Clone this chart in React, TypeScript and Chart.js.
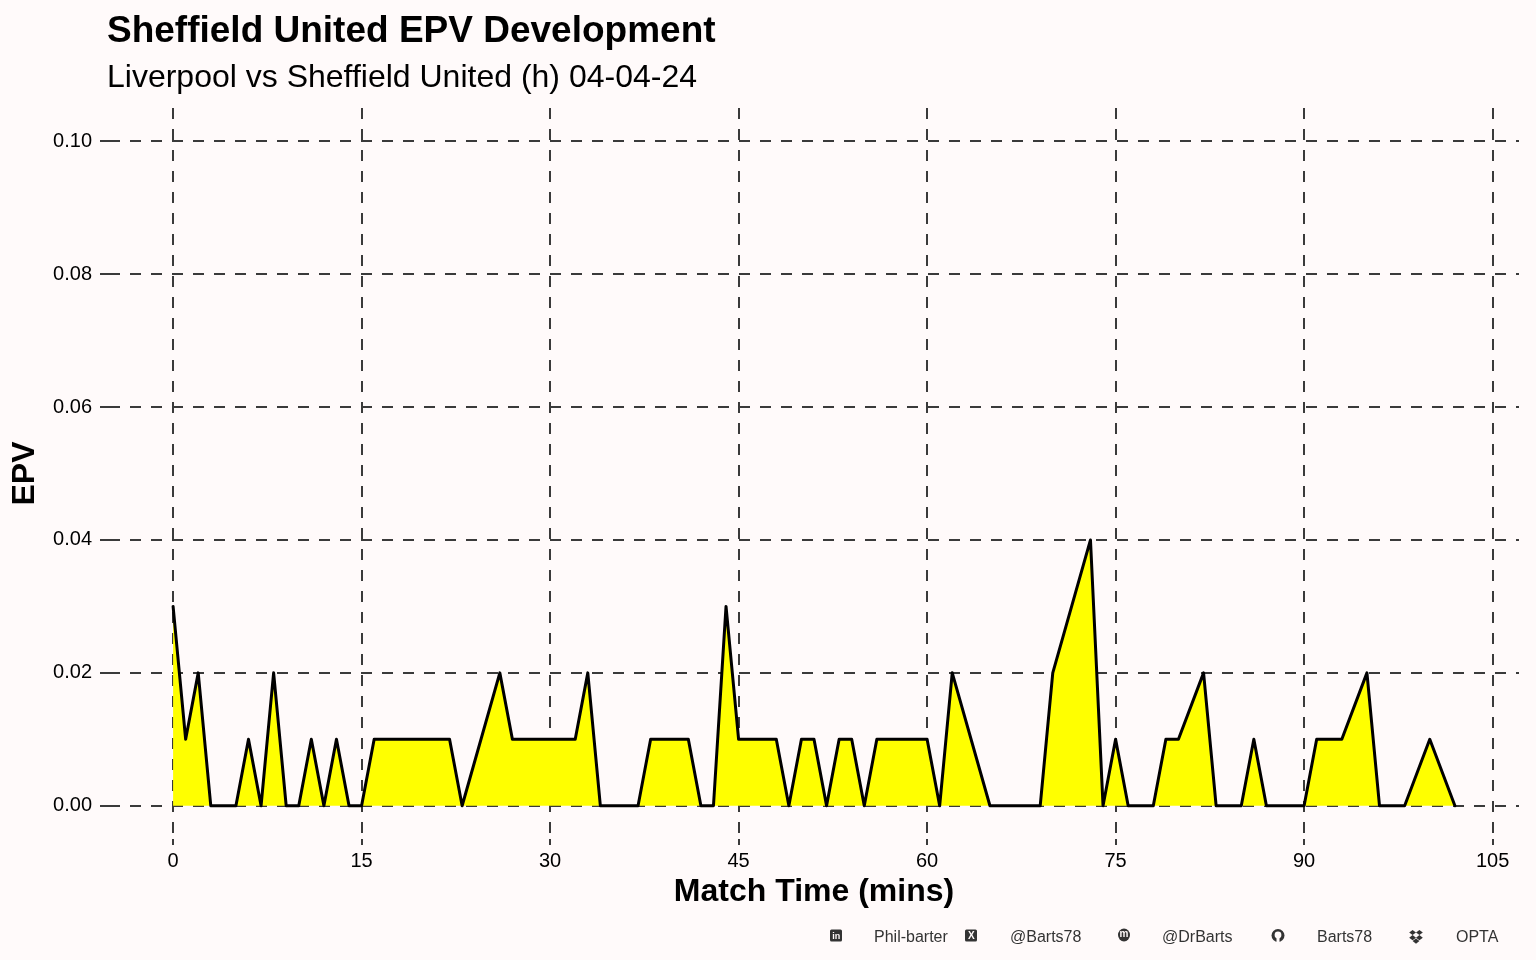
import React, { useEffect, useRef } from 'react';
import { Chart, registerables } from 'chart.js';

Chart.register(...registerables);

// ---- Data ----
const minutes = [0, 1, 2, 3, 5, 6, 7, 8, 9, 10, 11, 12, 13, 14, 15, 16, 22, 23, 26, 27, 32, 33, 34, 37, 38, 41, 42, 43, 44, 45, 48, 49, 50, 51, 52, 53, 54, 55, 56, 60, 61, 62, 65, 69, 70, 73, 74, 75, 76, 78, 79, 80, 82, 83, 85, 86, 87, 90, 91, 93, 95, 96, 98, 100, 102];
const epv = [0.03, 0.01, 0.02, 0, 0, 0.01, 0, 0.02, 0, 0, 0.01, 0, 0.01, 0, 0, 0.01, 0.01, 0, 0.02, 0.01, 0.01, 0.02, 0, 0, 0.01, 0.01, 0, 0, 0.03, 0.01, 0.01, 0, 0.01, 0.01, 0, 0.01, 0.01, 0, 0.01, 0.01, 0, 0.02, 0, 0, 0.02, 0.04, 0, 0.01, 0, 0, 0.01, 0.01, 0.02, 0, 0, 0.01, 0, 0, 0.01, 0.01, 0.02, 0, 0, 0.01, 0];
const xTickValues = [0, 15, 30, 45, 60, 75, 90, 105];
const yTickValues = [0, 0.02, 0.04, 0.06, 0.08, 0.1];
const titleText = 'Sheffield United EPV Development';
const subtitleText = 'Liverpool vs Sheffield United (h) 04-04-24';
const xTitleText = 'Match Time (mins)';
const yTitleText = 'EPV';
const captionIcons = ['linkedin', 'x', 'mastodon', 'github', 'dropbox'];
const captionTexts = ['Phil-barter', '@Barts78', '@DrBarts', 'Barts78', 'OPTA'];

const BG = '#FFFAFA';
const FONT = "'Liberation Sans', Arial, Helvetica, sans-serif";
const GRID = '#3a3a3a';

function drawIcon(ctx: CanvasRenderingContext2D, kind: string, cx: number, cy: number) {
  ctx.save();
  ctx.fillStyle = '#333';
  ctx.strokeStyle = '#333';
  const s = 12;
  if (kind === 'linkedin' || kind === 'x') {
    ctx.beginPath();
    const x = cx - s / 2, y = cy - s / 2, r = 1.5;
    ctx.moveTo(x + r, y);
    ctx.arcTo(x + s, y, x + s, y + s, r);
    ctx.arcTo(x + s, y + s, x, y + s, r);
    ctx.arcTo(x, y + s, x, y, r);
    ctx.arcTo(x, y, x + s, y, r);
    ctx.closePath();
    ctx.fill();
    ctx.fillStyle = BG;
    ctx.textAlign = 'center';
    ctx.textBaseline = 'middle';
    ctx.font = `bold ${kind === 'x' ? 10 : 9}px ${FONT}`;
    ctx.fillText(kind === 'x' ? 'X' : 'in', cx + 0.3, cy + 0.8);
  } else if (kind === 'mastodon') {
    ctx.beginPath();
    ctx.ellipse(cx, cy - 0.5, 6, 6.5, 0, 0, Math.PI * 2);
    ctx.fill();
    ctx.fillStyle = BG;
    ctx.textAlign = 'center';
    ctx.textBaseline = 'middle';
    ctx.font = `bold 10px ${FONT}`;
    ctx.fillText('m', cx, cy - 1);
  } else if (kind === 'github') {
    ctx.beginPath();
    ctx.arc(cx, cy, 6.5, 0, Math.PI * 2);
    ctx.fill();
    ctx.fillStyle = BG;
    ctx.beginPath();
    ctx.arc(cx, cy - 0.5, 3.4, 0, Math.PI * 2);
    ctx.fill();
    ctx.fillRect(cx - 1.5, cy + 2, 3, 5);
  } else if (kind === 'dropbox') {
    const d = (x: number, y: number) => {
      ctx.beginPath();
      ctx.moveTo(x, y - 2.6);
      ctx.lineTo(x + 3.4, y);
      ctx.lineTo(x, y + 2.6);
      ctx.lineTo(x - 3.4, y);
      ctx.closePath();
      ctx.fill();
    };
    d(cx - 3.4, cy - 3);
    d(cx + 3.4, cy - 3);
    d(cx - 3.4, cy + 2.2);
    d(cx + 3.4, cy + 2.2);
    d(cx, cy + 5.6);
  }
  ctx.restore();
}

const bgPlugin = {
  id: 'bgPlugin',
  beforeDraw(chart: any) {
    const { ctx, width, height } = chart;
    ctx.save();
    ctx.fillStyle = BG;
    ctx.fillRect(0, 0, width, height);
    ctx.restore();
  },
};

const textPlugin = {
  id: 'textPlugin',
  afterDraw(chart: any) {
    const ctx: CanvasRenderingContext2D = chart.ctx;
    ctx.save();
    ctx.fillStyle = '#000';
    ctx.textAlign = 'left';
    ctx.textBaseline = 'alphabetic';
    ctx.font = `bold 37px ${FONT}`;
    ctx.fillText(titleText, 107, 42);
    ctx.font = `32px ${FONT}`;
    ctx.fillText(subtitleText, 107, 87);

    const iconX = [836, 971, 1124, 1278, 1416];
    const textX = [874, 1010, 1162, 1317, 1456];
    ctx.font = `16px ${FONT}`;
    ctx.fillStyle = '#333';
    captionTexts.forEach((t, i) => {
      ctx.fillText(t, textX[i], 941.5);
      drawIcon(ctx, captionIcons[i], iconX[i], 935.5);
    });
    ctx.restore();
  },
};

export default function App() {
  const canvasRef = useRef<HTMLCanvasElement | null>(null);

  useEffect(() => {
    document.body.style.margin = '0';
    document.body.style.background = BG;
    const canvas = canvasRef.current;
    if (!canvas) return;
    const chart = new Chart(canvas, {
      type: 'line',
      data: {
        datasets: [
          {
            data: minutes.map((m, i) => ({ x: m, y: epv[i] })),
            borderColor: '#000000',
            borderWidth: 3,
            backgroundColor: '#FFFF00',
            fill: 'origin',
            pointRadius: 0,
            pointHoverRadius: 0,
            tension: 0,
            borderJoinStyle: 'round',
            borderCapStyle: 'round',
          },
        ],
      },
      options: {
        animation: false,
        responsive: false,
        devicePixelRatio: 1,
        layout: { padding: { left: 0, right: 17, top: 108, bottom: 0 } },
        plugins: {
          legend: { display: false },
          tooltip: { enabled: false },
          title: { display: false },
        },
        scales: {
          x: {
            type: 'linear',
            min: -5.1,
            max: 107.1,
            afterBuildTicks: (s: any) => {
              s.ticks = xTickValues.map((v) => ({ value: v }));
            },
            afterFit: (s: any) => {
              s.height = 121;
            },
            grid: {
              color: GRID,
              lineWidth: 2,
              drawTicks: true,
              tickLength: 6,
              tickColor: GRID,
              tickWidth: 2,
            },
            border: { display: false, dash: [11, 10] },
            ticks: {
              font: { family: FONT, size: 20 },
              color: '#000',
              padding: 4,
              maxRotation: 0,
              autoSkip: false,
              callback: (v: any) => String(v),
            },
            title: {
              display: true,
              text: xTitleText,
              color: '#000',
              font: { family: FONT, size: 32, weight: 'bold' },
              padding: { top: 0, bottom: 49 },
            },
          },
          y: {
            type: 'linear',
            min: -0.005,
            max: 0.105,
            afterBuildTicks: (s: any) => {
              s.ticks = yTickValues.map((v) => ({ value: v }));
            },
            afterFit: (s: any) => {
              s.width = 109;
            },
            grid: {
              color: GRID,
              lineWidth: 2,
              drawTicks: true,
              tickLength: 9,
              tickColor: GRID,
              tickWidth: 2,
            },
            border: { display: false, dash: [11, 10] },
            ticks: {
              font: { family: FONT, size: 20 },
              color: '#000',
              padding: 8,
              autoSkip: false,
              callback: (v: any) => Number(v).toFixed(2),
            },
            title: {
              display: true,
              text: yTitleText,
              color: '#000',
              font: { family: FONT, size: 32, weight: 'bold' },
              padding: { top: 6, bottom: 0 },
            },
          },
        },
      } as any,
      plugins: [bgPlugin, textPlugin],
    });
    return () => chart.destroy();
  }, []);

  return (
    <div style={{ width: 1536, height: 960, background: BG }}>
      <canvas ref={canvasRef} width={1536} height={960} style={{ display: 'block' }} />
    </div>
  );
}
